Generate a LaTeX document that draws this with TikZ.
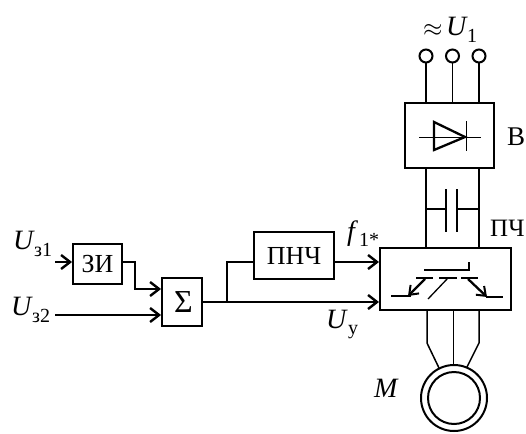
\documentclass[tikz,border=0pt]{standalone}
\usepackage{fontspec}
\setmainfont{Liberation Serif}
\usetikzlibrary{arrows.meta,calc}
\tikzset{
  thickw/.style={line width=2.3pt},
  thinw/.style={line width=1.5pt},
  arr/.style={thickw,-{Straight Barb[length=9pt,width=14pt,line width=2.4pt]}},
  block/.style={draw,line width=1.9pt,inner sep=0pt,minimum width=#1},
  lab/.style={inner sep=0pt,font=\fontsize{26}{26}\selectfont},
  big/.style={inner sep=0pt,font=\fontsize{28}{28}\selectfont\itshape},
  sub/.style={inner sep=0pt,font=\fontsize{20}{20}\selectfont},
  term/.style={circle,draw,line width=2pt,minimum size=13pt,inner sep=0pt},
}
\begin{document}
\begin{tikzpicture}[x=1pt,y=-1pt]
\useasboundingbox (0,0) rectangle (526,433);
% blocks
\node[block=89pt,minimum height=65pt] (v) at (449.5,135.5) {};
\node[block=131pt,minimum height=62pt] (pch) at (445.5,279) {};
\node[block=49pt,minimum height=40pt,lab] (zi) at (97.5,264) {ЗИ\hspace{5pt}};
\node[block=40pt,minimum height=48pt,lab,font=\fontsize{32}{32}\selectfont] (sum) at (182,302) {\hspace{3pt}Σ};
\node[block=80pt,minimum height=47pt,lab] (pnch) at (294,255.5) {ПНЧ\hspace{10pt}};
% terminals
\node[term] (t1) at (426,56) {};
\node[term] (t2) at (452.5,56) {};
\node[term] (t3) at (479,56) {};
\draw[thickw] (t1) -- (t1 |- v.north);
\draw[thinw] (t2) -- (t2 |- v.north);
\draw[thickw] (t3) -- (t3 |- v.north);
% DC link
\coordinate (cl) at (426,209);
\coordinate (cr) at (479,209);
\coordinate (pl) at (446,209);
\coordinate (pr) at (457,209);
\draw[thinw] (cl |- v.south) -- (cl |- pch.north);
\draw[thickw] (cr |- v.south) -- (cr |- pch.north);
\draw[thinw] (cl) -- (pl);
\draw[thinw] (pr) -- (cr);
\draw[thickw] (446,189) -- (446,232);
\draw[thinw] (457,189) -- (457,232);
% diode
\draw[thickw,line join=miter] (434,122) -- (434,150) -- (465,137) -- cycle;
\draw[line width=1pt] (419,137) -- (481,137);
\draw[line width=1pt] (466,121) -- (466,151);
% converter symbol
\draw[line width=1.3pt] (424,270) -- (469,270) -- (469,262);
\draw[line width=1.3pt] (416,278) -- (433,278);
\draw[line width=1.3pt] (439,278) -- (457,278);
\draw[line width=1.3pt] (461,278) -- (478,278);
\draw[line width=1.3pt] (428,299) -- (448,278);
\draw[line width=1.3pt] (391,296) -- (411,296);
\draw[line width=1.3pt] (486,297) -- (503,297);
\draw[thickw,-{Straight Barb[length=8pt,width=12pt,line width=2pt]}] (425,279) -- (408,296);
\draw[thickw,-{Straight Barb[length=8pt,width=12pt,line width=2pt]}] (468,279) -- (487,297);
% motor
\node[circle,draw,line width=2pt,minimum size=66pt,inner sep=0pt] (mo) at (454,398) {};
\node[circle,draw,line width=2pt,minimum size=52pt,inner sep=0pt] (mi) at (454,398) {};
\draw[thinw] (427,310) -- (427,343) -- (439,368);
\draw[line width=1.8pt] (453.5,310) -- (453.5,365);
\draw[thinw] (479,310) -- (479,343) -- (467,367);
% signal lines
\coordinate (u1) at (55,262);
\coordinate (u2) at (55,315);
\coordinate (j) at (227,302);
\coordinate (pin1) at (379,262);
\coordinate (pin2) at (379,302);
\draw[arr] (u1) -- (zi.west |- u1);
\draw[thinw] (zi.east |- u1) -- (135,262) -- (135,289);
\draw[arr] (134,289) -- (sum.west |- 0,289);
\draw[arr] (u2) -- (sum.west |- u2);
\draw[arr] (sum.east) -- (pin2);
\draw[thinw] (j) -- (227,262) -- (pnch.west |- 0,262);
\draw[arr] (pnch.east |- 0,262) -- (pin1);
% labels
\node[big,anchor=base west] (lu1) at (13,249) {U};
\node[sub,anchor=base west] (lz1) at (34,256) {з1};
\node[big,anchor=base west] (lu2) at (11,315) {U};
\node[sub,anchor=base west] (lz2) at (32,322) {з2};
\node[big,anchor=base west] (lf) at (347,240) {f};
\node[sub,anchor=base west] (lf1) at (359,246) {1*};
\node[big,anchor=base west] (luy) at (326,328) {U};
\node[sub,anchor=base west] (ly) at (348,334) {у};
\node[lab,anchor=base west] (lap) at (423,37) {$\approx$};
\node[big,anchor=base west] (lu) at (446,36) {U};
\node[sub,anchor=base west] (l1) at (467,43) {1};
\node[lab,anchor=base west,font=\fontsize{27}{27}\selectfont] (lv) at (507,145) {В};
\node[lab,anchor=base west,font=\fontsize{25}{25}\selectfont] (lp) at (490,236) {ПЧ};
\node[big,anchor=base west] (lm) at (374,397) {M};
\end{tikzpicture}
\end{document}
